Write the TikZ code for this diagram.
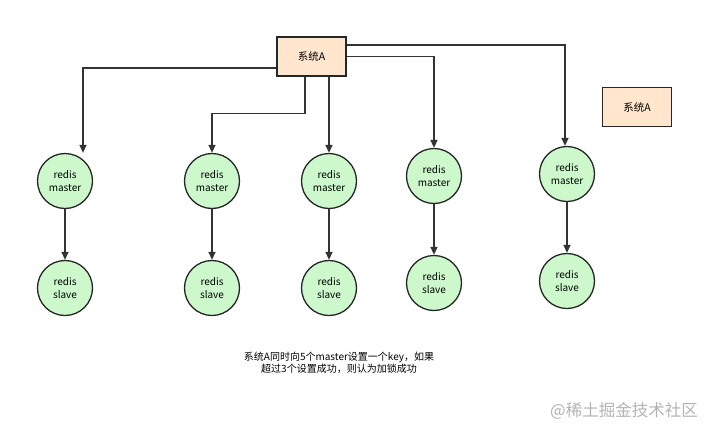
\documentclass[tikz,border=0pt]{standalone}
\usepackage{fontspec}
\newfontfamily\cjk{Noto Sans CJK SC}
\usepackage{xcolor}
\usepackage{tikz}
\usetikzlibrary{arrows.meta}
\definecolor{boxfill}{HTML}{FFE6CC}
\definecolor{nodefill}{HTML}{CCF8CC}
\definecolor{linkgray}{HTML}{333333}
\definecolor{markgray}{HTML}{B4B4B4}
\tikzset{
  sysbox/.style={draw=black!85, fill=boxfill, line width=1.3pt, minimum width=69pt, minimum height=39pt, inner sep=0pt, font=\cjk\fontsize{10.5}{12}\selectfont},
  rnode/.style={circle, draw=black!85, fill=nodefill, line width=1.3pt, minimum size=55pt, inner sep=0pt, align=center, font=\cjk\fontsize{10}{12.5}\selectfont},
  link/.style={draw=linkgray, line width=1.4pt, -{Triangle[length=8pt,width=7pt]}},
  note/.style={align=center, font=\cjk\fontsize{10}{12}\selectfont},
  creditmark/.style={text=markgray, font=\cjk\fontsize{16.5}{18}\selectfont},
}
\begin{document}
\begin{tikzpicture}[x=1pt,y=-1pt]
\useasboundingbox[fill=white] (0,0) rectangle (720,437);
\node[sysbox] (sysA) at (311.5,56.5) {系统A};
\node[sysbox] (sysB) at (637,107) {系统A};
\node[rnode] (m1) at (65,181) {redis\\master};
\node[rnode] (m2) at (212,181) {redis\\master};
\node[rnode] (m3) at (329,181) {redis\\master};
\node[rnode] (m4) at (434,176) {redis\\master};
\node[rnode] (m5) at (567,174) {redis\\master};
\node[rnode] (s1) at (65,288) {redis\\slave};
\node[rnode] (s2) at (212,288) {redis\\slave};
\node[rnode] (s3) at (329,288) {redis\\slave};
\node[rnode] (s4) at (434,283) {redis\\slave};
\node[rnode] (s5) at (567,281) {redis\\slave};
\draw[link] ([yshift=-11.5pt]sysA.west) -| ([xshift=18pt]m1.north);
\draw[link] ([xshift=-6.5pt]sysA.south) -- ++(0,37) -| (m2.north);
\draw[link] (sysA.south -| m3.north) -- (m3.north);
\draw[link] (sysA.east) -| (m4.north);
\draw[link] ([yshift=11.5pt]sysA.east) -| ([xshift=-2pt]m5.north);
\draw[link] (m1) -- (s1);
\draw[link] (m2) -- (s2);
\draw[link] (m3) -- (s3);
\draw[link] (m4) -- (s4);
\draw[link] (m5) -- (s5);
\node[note] (info) at (339,363) {系统A同时向5个master设置一个key，如果\\超过3个设置成功，则认为加锁成功};
\node[creditmark] (credit) at (624,411) {@稀土掘金技术社区};
\end{tikzpicture}
\end{document}
